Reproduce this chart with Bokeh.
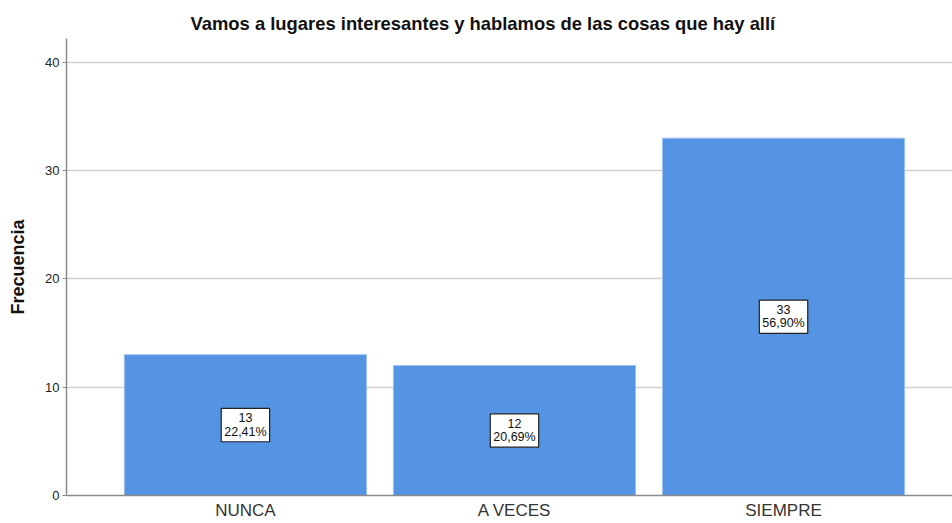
from bokeh.plotting import figure
from bokeh.models import ColumnDataSource, Range1d, FixedTicker
from bokeh.core.properties import value
from bokeh.embed import file_html
from bokeh.resources import INLINE

categories = ["NUNCA", "A VECES", "SIEMPRE"]
counts = [13, 12, 33]
percents = ["22,41%", "20,69%", "56,90%"]
y_ticks = [0, 10, 20, 30, 40]

xs = [i + 1 for i in range(len(categories))]
labels = [f"{c}\n{p}" for c, p in zip(counts, percents)]
mids = [c / 2 for c in counts]

src = ColumnDataSource(dict(x=xs, top=counts, lab=labels, mid=mids))

p = figure(width=952, height=523, output_backend="svg", toolbar_location=None,
           x_range=Range1d(0.335, 3.628), y_range=Range1d(0, 42.2),
           min_border_left=66, min_border_right=0, min_border_top=38, min_border_bottom=28)
p.outline_line_color = None
p.background_fill_color = "white"

p.title.text = "Vamos a lugares interesantes y hablamos de las cosas que hay allí"
p.title.align = "left"
p.title.text_font = "Liberation Sans"
p.title.text_font_size = "18.4px"
p.title.text_font_style = "bold"
p.title.text_color = "#111111"
p.title.offset = 124

p.vbar(x="x", top="top", width=0.9, source=src, fill_color="#5594E3",
       line_color="#9DC0EE", line_width=1)

p.text(x="x", y="mid", text="lab", source=src, text_align="center", text_baseline="middle",
       text_font=value("Liberation Sans"), text_font_size="12.5px", text_color="#111111",
       text_line_height=0.95,
       background_fill_color="white", border_line_color="#222222", border_line_width=1.2,
       padding=3)

# axes
p.xaxis.ticker = FixedTicker(ticks=xs)
p.xaxis.major_label_overrides = {x: c for x, c in zip(xs, categories)}
p.xaxis.major_tick_line_color = None
p.xaxis.minor_tick_line_color = None
p.xaxis.axis_line_color = "#8a8a8a"
p.xaxis.axis_line_width = 1.5
p.xaxis.major_label_text_font = "Liberation Sans"
p.xaxis.major_label_text_font_size = "17px"
p.xaxis.major_label_text_color = "#333333"
p.xaxis.major_label_standoff = 5
p.xaxis.major_tick_in = 0
p.xaxis.major_tick_out = 0

p.yaxis.ticker = FixedTicker(ticks=y_ticks)
p.yaxis.minor_tick_line_color = None
p.yaxis.major_tick_in = 0
p.yaxis.major_tick_out = 4
p.yaxis.major_tick_line_color = "#8a8a8a"
p.yaxis.axis_line_color = "#8a8a8a"
p.yaxis.axis_line_width = 1.5
p.yaxis.major_label_text_font = "Liberation Sans"
p.yaxis.major_label_text_font_size = "13px"
p.yaxis.major_label_text_color = "#222222"
p.yaxis.major_label_standoff = 3
p.yaxis.axis_label = "Frecuencia"
p.yaxis.axis_label_text_font = "Liberation Sans"
p.yaxis.axis_label_text_font_size = "18px"
p.yaxis.axis_label_text_font_style = "bold"
p.yaxis.axis_label_text_color = "#111111"
p.yaxis.axis_label_standoff = 14

p.xgrid.grid_line_color = None
p.ygrid.grid_line_color = "#d0d0d0"
p.ygrid.grid_line_width = 1.5

open("out.html", "w").write(file_html(p, INLINE))
